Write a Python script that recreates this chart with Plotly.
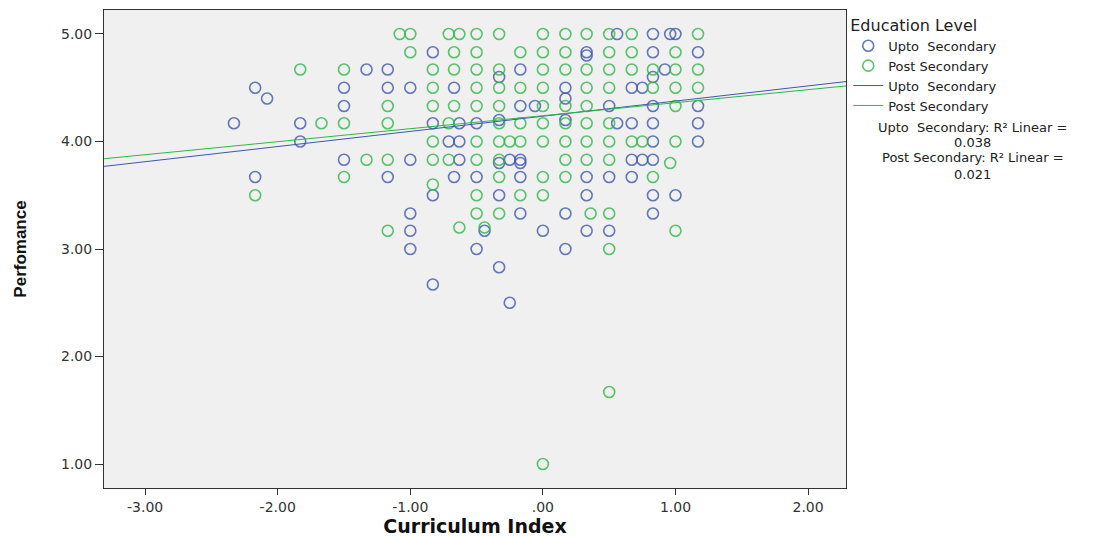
import plotly.graph_objects as go

# ---------------- data ----------------
x_range = [-3.31, 2.286]
y_range = [0.777, 5.223]
x_tickvals = [-3, -2, -1, 0, 1, 2]
x_ticktext = ["-3.00", "-2.00", "-1.00", ".00", "1.00", "2.00"]
y_tickvals = [1, 2, 3, 4, 5]
y_ticktext = ["1.00", "2.00", "3.00", "4.00", "5.00"]

series_names = ["Upto\u00a0 Secondary", "Post Secondary"]

# Upto Secondary (blue)
up_x = [
    0.56, 0.83, 0.96, 1.00,
    -0.83, 0.33, 0.83, 1.17, 0.33,
    -1.33, -1.17, -0.17, 0.92, -0.33, 0.83,
    -2.17, -1.50, -1.17, -1.00, -0.67, 0.17, 0.67, 0.75, -2.08, 0.17,
    -1.50, -0.17, -0.06, 0.50, 0.83, 1.17, 0.17, -0.33,
    -2.33, -1.83, -0.83, -0.63, -0.50, 0.56, 0.67, 0.83, 1.17,
    -1.83, -0.71, -0.63, 0.83, 1.17,
    -1.50, -1.00, -0.63, -0.25, -0.17, 0.67, 0.75, 0.83, -0.33, -0.17,
    -2.17, -1.17, -0.67, -0.50, -0.17, 0.33, 0.50, 0.67,
    -0.83, -0.33, 0.33, 0.83, 1.00,
    -1.00, -0.17, 0.17, 0.83,
    -1.00, -0.44, 0.00, 0.33, 0.50,
    -1.00, -0.50, 0.17,
    -0.33, -0.83, -0.25,
]
up_y = [
    5.00, 5.00, 5.00, 5.00,
    4.83, 4.83, 4.83, 4.83, 4.80,
    4.67, 4.67, 4.67, 4.67, 4.60, 4.60,
    4.50, 4.50, 4.50, 4.50, 4.50, 4.50, 4.50, 4.50, 4.40, 4.40,
    4.33, 4.33, 4.33, 4.33, 4.33, 4.33, 4.20, 4.20,
    4.17, 4.17, 4.17, 4.17, 4.17, 4.17, 4.17, 4.17, 4.17,
    4.00, 4.00, 4.00, 4.00, 4.00,
    3.83, 3.83, 3.83, 3.83, 3.83, 3.83, 3.83, 3.83, 3.80, 3.80,
    3.67, 3.67, 3.67, 3.67, 3.67, 3.67, 3.67, 3.67,
    3.50, 3.50, 3.50, 3.50, 3.50,
    3.33, 3.33, 3.33, 3.33,
    3.17, 3.17, 3.17, 3.17, 3.17,
    3.00, 3.00, 3.00,
    2.83, 2.67, 2.50,
]

# Post Secondary (green)
post_x = [
    -1.08, -1.00, -0.71, -0.63, -0.50, -0.33, 0.00, 0.17, 0.33, 0.50, 0.67, 1.17,
    -1.00, -0.67, -0.50, -0.17, 0.00, 0.17, 0.50, 0.67, 1.00,
    -1.83, -1.50, -0.83, -0.67, -0.50, -0.33, 0.00, 0.17, 0.33, 0.50, 0.67, 0.83, 1.00, 1.17,
    -0.83, -0.50, -0.33, -0.17, 0.00, 0.33, 0.50, 0.83, 1.00, 1.17,
    -1.17, -0.83, -0.67, -0.50, -0.33, 0.00, 0.17, 0.33, 1.00,
    -1.67, -1.50, -1.17, -0.71, -0.33, -0.17, 0.00, 0.17, 0.33, 0.50,
    -0.83, -0.50, -0.33, -0.25, -0.17, 0.00, 0.17, 0.33, 0.50, 0.67, 0.75, 1.00,
    -1.33, -1.17, -0.83, -0.71, -0.50, -0.33, 0.17, 0.33, 0.50, 0.96,
    -1.50, -0.33, 0.00, 0.17, 0.83, -0.83,
    -2.17, -0.50, -0.17, 0.00,
    -0.50, -0.33, 0.36, 0.50,
    -1.17, 1.00, -0.63, -0.44,
    0.50, 0.50, 0.00,
]
post_y = [
    5.00, 5.00, 5.00, 5.00, 5.00, 5.00, 5.00, 5.00, 5.00, 5.00, 5.00, 5.00,
    4.83, 4.83, 4.83, 4.83, 4.83, 4.83, 4.83, 4.83, 4.83,
    4.67, 4.67, 4.67, 4.67, 4.67, 4.67, 4.67, 4.67, 4.67, 4.67, 4.67, 4.67, 4.67, 4.67,
    4.50, 4.50, 4.50, 4.50, 4.50, 4.50, 4.50, 4.50, 4.50, 4.50,
    4.33, 4.33, 4.33, 4.33, 4.33, 4.33, 4.33, 4.33, 4.33,
    4.17, 4.17, 4.17, 4.17, 4.17, 4.17, 4.17, 4.17, 4.17, 4.17,
    4.00, 4.00, 4.00, 4.00, 4.00, 4.00, 4.00, 4.00, 4.00, 4.00, 4.00, 4.00,
    3.83, 3.83, 3.83, 3.83, 3.83, 3.83, 3.83, 3.83, 3.83, 3.80,
    3.67, 3.67, 3.67, 3.67, 3.67, 3.60,
    3.50, 3.50, 3.50, 3.50,
    3.33, 3.33, 3.33, 3.33,
    3.17, 3.17, 3.20, 3.20,
    3.00, 1.67, 1.00,
]

# Linear fit lines (intercept, slope) and R^2 labels
fit_intercepts = [4.235, 4.240]
fit_slopes = [0.141, 0.121]
fit_r2 = ["0.038", "0.021"]

colors = ["#3E58AC", "#2EB848"]

# ---------------- figure ----------------
TXT = "DejaVu Sans, Verdana, sans-serif"
fig = go.Figure()

for name, xs, ys, col in [(series_names[0], up_x, up_y, colors[0]),
                          (series_names[1], post_x, post_y, colors[1])]:
    fig.add_trace(go.Scatter(
        x=xs, y=ys, mode="markers", name=name,
        marker=dict(symbol="circle-open", size=11, color=col,
                    line=dict(width=1.6, color=col), opacity=0.8),
    ))

for i in range(2):
    xs = x_range
    ys = [fit_intercepts[i] + fit_slopes[i] * v for v in xs]
    fig.add_trace(go.Scatter(
        x=xs, y=ys, mode="lines", name=series_names[i],
        line=dict(color=colors[i], width=1),
    ))

# R^2 notes, one text per line (heading line, then value line)
note_y = [(0.7552, 0.7218), (0.6904, 0.6569)]
for i in range(2):
    for txt, yc in [(f"{series_names[i]}: R\u00b2 Linear =", note_y[i][0]),
                    (fit_r2[i], note_y[i][1])]:
        fig.add_annotation(
            xref="paper", yref="paper", x=1.171, y=yc, xanchor="center", yanchor="middle",
            text=txt, showarrow=False, align="center", borderpad=0,
            font=dict(family=TXT, size=13, color="#222"),
        )

fig.update_layout(
    width=1114, height=537,
    margin=dict(l=104, r=268, t=10, b=49),
    paper_bgcolor="white", plot_bgcolor="#F0F0F0",
    showlegend=True,
    legend=dict(
        x=1.003, y=1.0, xanchor="left", yanchor="top",
        title=dict(text="Education Level", font=dict(family=TXT, size=16, color="#222")),
        font=dict(family=TXT, size=13, color="#222"),
        bgcolor="rgba(0,0,0,0)", itemwidth=30, traceorder="normal",
    ),
    xaxis=dict(
        range=x_range, tickvals=x_tickvals, ticktext=x_ticktext,
        showgrid=False, zeroline=False, showline=True, mirror=True, automargin=False,
        linecolor="#333", linewidth=1, ticks="outside", ticklen=6, tickcolor="#333",
        tickfont=dict(family=TXT, size=14, color="#333"),
        title=dict(text="<b>Curriculum Index</b>", standoff=10,
                   font=dict(family=TXT, size=19, color="#111")),
    ),
    yaxis=dict(
        range=y_range, tickvals=y_tickvals, ticktext=y_ticktext,
        showgrid=False, zeroline=False, showline=True, mirror=True, automargin=False,
        linecolor="#333", linewidth=1, ticks="outside", ticklen=8, tickcolor="#333",
        tickfont=dict(family=TXT, size=14, color="#333"),
        title=dict(text="<b>Perfomance</b>", standoff=30,
                   font=dict(family="Liberation Sans, Arial, sans-serif", size=17, color="#111")),
    ),
)

fig.write_html("out.html")
